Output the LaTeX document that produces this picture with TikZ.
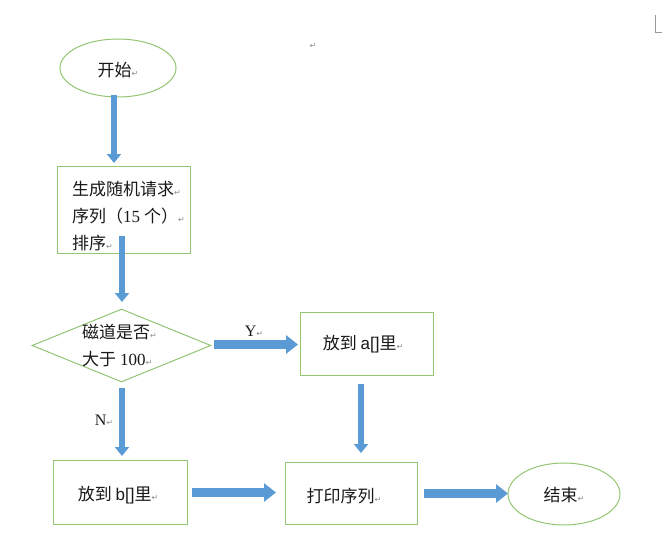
\documentclass[tikz,border=0pt]{standalone}
\usepackage{fontspec}
\setmainfont{Liberation Serif}
\newfontfamily\cjk{Noto Sans CJK SC}
\newfontfamily\lat{Liberation Serif}
\newfontfamily\latsans{Liberation Sans}
\newfontfamily\symf{DejaVu Sans}
\usetikzlibrary{shapes.geometric,arrows.meta}
\definecolor{gline}{HTML}{93C572}
\definecolor{barr}{HTML}{5B9BD5}
\newcommand{\parmark}{{\symf\fontsize{8}{8}\selectfont\textcolor{black!45}{↵}}}
\tikzset{
  shp/.style={draw=gline, line width=1pt, inner sep=0pt, fill=white},
  txt/.style={font=\cjk\fontsize{17}{27}\selectfont, inner sep=0pt, align=left, text=black!90},
  lbl/.style={font=\lat\fontsize{16}{16}\selectfont, inner sep=0pt, text=black!90},
  varrow/.style={line width=6.5pt, draw=barr, -{Triangle[width=14pt,length=9pt]}},
  harrow/.style={line width=9pt, draw=barr, -{Triangle[width=18pt,length=12pt]}},
}
\begin{document}
\begin{tikzpicture}[x=1pt,y=-1pt]
\useasboundingbox (0,0) rectangle (662,560);
% shapes
\node[shp, ellipse, minimum width=116pt, minimum height=58pt] (start) at (118,68) {};
\node[shp, rectangle, minimum width=133pt, minimum height=87pt] (gen) at (123.5,209.5) {};
\node[shp, diamond, aspect=2.45, minimum width=179pt, minimum height=73pt] (dia) at (121.5,345.5) {};
\node[shp, rectangle, minimum width=133pt, minimum height=63pt] (puta) at (366.5,343.5) {};
\node[shp, rectangle, minimum width=134pt, minimum height=64pt] (putb) at (120,492) {};
\node[shp, rectangle, minimum width=132pt, minimum height=62pt] (print) at (351,493) {};
\node[shp, ellipse, minimum width=112pt, minimum height=62pt] (stop) at (564,494) {};
% texts
\node[txt] (tstart) at (118,70) {开始\parmark};
\node[txt, anchor=west] (tgen) at (72,216) {生成随机请求\parmark\\序列（{\lat 15} 个）\parmark\\排序\parmark};
\node[txt, anchor=west] (tdia) at (82,345) {磁道是否\parmark\\大于 {\lat 100}\parmark};
\node[txt] (tputa) at (363,344) {放到 {\latsans a[]}里\parmark};
\node[txt] (tputb) at (118,495) {放到 {\latsans b[]}里\parmark};
\node[txt] (tprint) at (344,496) {打印序列\parmark};
\node[txt] (tstop) at (564,495) {结束\parmark};
\node[lbl] (ly) at (254,331) {Y\parmark};
\node[lbl] (ln) at (104,420) {N\parmark};
\node[inner sep=0pt] (stray) at (313,46) {\parmark};
% corner mark
\draw[black!40, line width=0.6pt] (655.5,15) -- (655.5,32.5) -- (662,32.5);
% connectors
\coordinate (a1s) at (114,95);
\coordinate (a1e) at (114,163);
\draw[varrow] (a1s) -- (a1e);
\coordinate (a2s) at (122,236);
\coordinate (a2e) at (122,302);
\draw[varrow] (a2s) -- (a2e);
\coordinate (ans) at (122,388);
\coordinate (ane) at (122,456);
\draw[varrow] (ans) -- (ane);
\coordinate (ays) at (214,344.5);
\coordinate (aye) at (298,344.5);
\draw[harrow] (ays) -- (aye);
\coordinate (aas) at (361,384);
\coordinate (aae) at (361,453);
\draw[varrow] (aas) -- (aae);
\coordinate (abs) at (192,492.5);
\coordinate (abe) at (276,492.5);
\draw[harrow] (abs) -- (abe);
\coordinate (aps) at (424,493.5);
\coordinate (ape) at (508,493.5);
\draw[harrow] (aps) -- (ape);
\end{tikzpicture}
\end{document}
